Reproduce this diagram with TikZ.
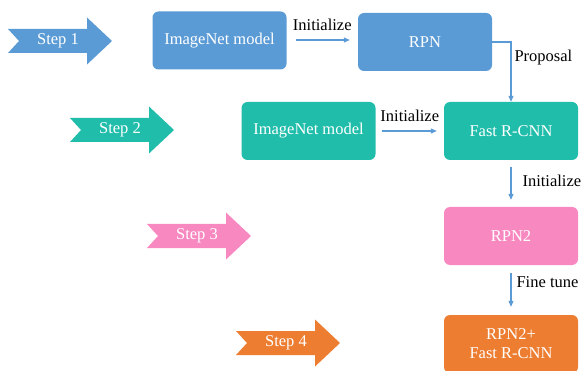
\documentclass[tikz,border=0pt]{standalone}
\usepackage{fontspec}
\setmainfont{Liberation Serif}
\usetikzlibrary{arrows.meta}

\definecolor{stepblue}{HTML}{5B9BD5}
\definecolor{stepteal}{HTML}{20BDAA}
\definecolor{steppink}{HTML}{F888C0}
\definecolor{steporange}{HTML}{ED7D31}

\begin{document}
\begin{tikzpicture}[x=1pt, y=-1pt, >={Triangle[length=6pt,width=5pt]},
    font=\fontsize{16.5}{19}\selectfont,
    stage/.style={rectangle, rounded corners=6pt, minimum width=134pt,
        minimum height=58pt, text=white, align=center, inner sep=0pt},
    link/.style={->, stepblue, line width=1.1pt},
    tag/.style={inner sep=3pt, text=black}]
    % 画布大小
    \useasboundingbox (0,0) rectangle (583,371);

    % 左侧的步骤箭头
    \foreach \x/\y/\c/\n in {8/41/stepblue/1, 70/130/stepteal/2,
                             147/236/steppink/3, 236/343/steporange/4}{
        \fill[\c, shift={(\x,\y)}] (0,-12) -- (79,-12) -- (79,-23.5) -- (104,0)
            -- (79,23.5) -- (79,12) -- (0,12) -- (11,0) -- cycle;
        \node[text=white] (step\n) at (\x+50,\y) {Step \n};
    }

    % 各阶段的方框
    \node[stage, fill=stepblue]   (imgA)  at (219.5,40.5) {ImageNet model};
    \node[stage, fill=stepblue]   (rpn)   at (425,42)     {RPN};
    \node[stage, fill=stepteal]   (imgB)  at (308.5,131)  {ImageNet model};
    \node[stage, fill=stepteal]   (fast)  at (511,131)    {Fast R-CNN};
    \node[stage, fill=steppink]   (rpnB)  at (511,236)    {RPN2};
    \node[stage, fill=steporange] (final) at (511,344)    {RPN2+\\Fast R-CNN};

    % 连接箭头
    \draw[link, shorten <=9pt, shorten >=8pt] (imgA.east |- 0,40) -- (rpn.west |- 0,40)
        node[tag, midway, above=6pt] {Initialize};
    \draw[link] (rpn.east) -| (fast.north) node[tag, pos=.63, right] {Proposal};
    \draw[link, shorten <=6pt, shorten >=7pt] (imgB.east) -- (fast.west)
        node[tag, midway, above=6pt] {Initialize};
    \draw[link, shorten <=7pt, shorten >=7pt] (fast.south) -- (rpnB.north)
        node[tag, pos=.45, right=8pt] {Initialize};
    \draw[link, shorten <=8pt, shorten >=8pt] (rpnB.south) -- (final.north)
        node[tag, pos=.35, right=2pt] {Fine tune};
\end{tikzpicture}
\end{document}
